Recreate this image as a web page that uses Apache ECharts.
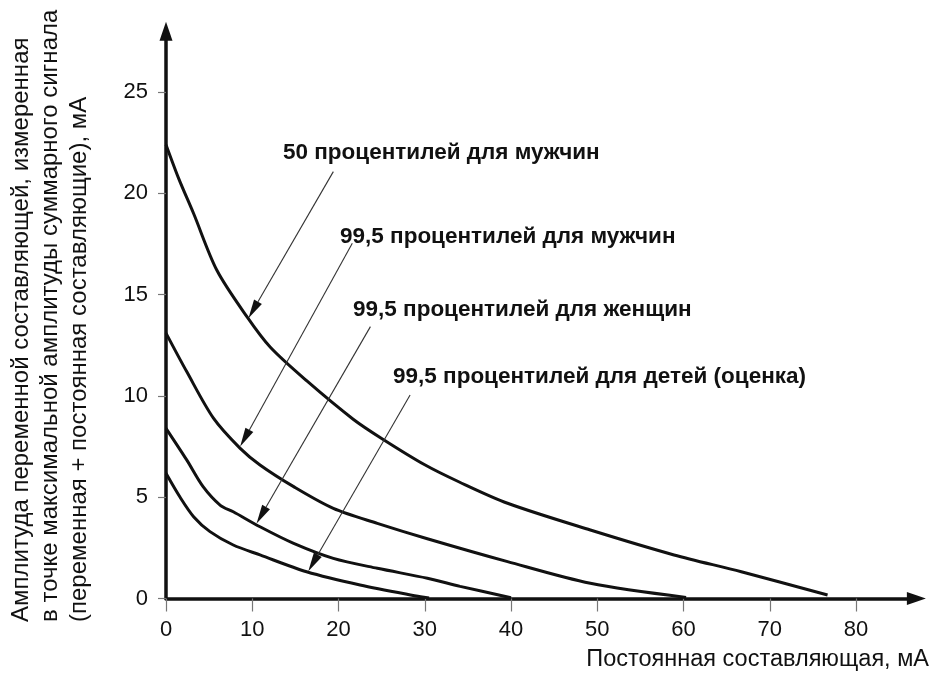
<!DOCTYPE html>
<html>
<head>
<meta charset="utf-8">
<script src="https://cdn.jsdelivr.net/npm/echarts@6/dist/echarts.min.js"></script>
<style>
  html, body { margin: 0; padding: 0; background: #fff; }
  #chart { width: 934px; height: 680px; }
</style>
</head>
<body>
<div id="chart"></div>
<script>
// ---- Data ----
const xTickValues = [0, 10, 20, 30, 40, 50, 60, 70, 80];
const yTickValues = [0, 5, 10, 15, 20, 25];

// 50 percentile, men
const curve50Men = [[0, 22.4], [1.5, 20.7], [3.2, 19.0], [5.9, 16.2], [9.4, 13.9], [12.1, 12.4],
  [16.3, 10.75], [21.7, 8.85], [25.0, 7.9], [30.0, 6.6], [34.0, 5.75], [39.6, 4.7],
  [49.2, 3.38], [58.9, 2.15], [66.7, 1.32], [76.7, 0.17]];
// 99.5 percentile, men
const curve995Men = [[0, 13.1], [2.4, 11.2], [5.5, 8.9], [8.6, 7.41], [10.9, 6.59], [14.8, 5.52],
  [19.4, 4.45], [24.5, 3.71], [30.3, 2.95], [39.6, 1.82], [49.2, 0.75], [60.3, 0.05]];
// 99.5 percentile, women
const curve995Women = [[0, 8.4], [2.4, 6.84], [4.3, 5.52], [6.3, 4.6], [7.8, 4.28], [10.9, 3.54],
  [14.8, 2.72], [19.4, 1.98], [24.5, 1.49], [30.3, 1.0], [34.1, 0.6], [40.0, 0.04]];
// 99.5 percentile, children (estimate)
const curve995Children = [[0, 6.18], [1.6, 5.02], [3.2, 4.04], [5.1, 3.3], [7.8, 2.64], [10.9, 2.15],
  [16.3, 1.32], [22.5, 0.67], [29.5, 0.09], [30.5, 0.02]];

// annotation arrows: [xStart, yStart, xTip, yTip] in data units
const arrows = [
  [19.4, 21.07, 9.56, 13.83],
  [21.6, 17.53, 8.6, 7.5],
  [23.7, 13.42, 10.5, 3.7],
  [28.3, 10.04, 16.5, 1.35]
];
const annotationTexts = [
  '50 процентилей для мужчин',
  '99,5 процентилей для мужчин',
  '99,5 процентилей для женщин',
  '99,5 процентилей для детей (оценка)'
];
const xAxisTitle = 'Постоянная составляющая, мА';
const yAxisTitleLines = [
  'Амплитуда переменной составляющей, измеренная',
  'в точке максимальной амплитуды суммарного сигнала',
  '(переменная + постоянная составляющие), мА'
];

// ---- Chart ----
const FONT = '"Liberation Sans", Arial, Helvetica, sans-serif';
const chart = echarts.init(document.getElementById('chart'), null, { renderer: 'canvas' });

const curveStyle = { color: '#111', width: 3 };
function curveSeries(name, data) {
  return {
    name, type: 'line', data, showSymbol: false, symbol: 'none',
    smooth: 0.3,
    lineStyle: curveStyle, silent: true, z: 3
  };
}

const labelPos = [[283, 153], [340, 237], [353, 310], [393, 377]];

const option = {
  animation: false,
  backgroundColor: '#fff',
  grid: { left: 166, right: 17.6, top: 31.2, bottom: 81.5, containLabel: false },
  xAxis: {
    type: 'value', min: 0, max: 87,
    axisLine: { show: true, onZero: false, lineStyle: { color: '#111', width: 3.5 },
      symbol: ['none', 'triangle'], symbolSize: [13, 19] },
    axisTick: { show: true, length: 13, lineStyle: { color: '#777', width: 1.2 }, customValues: xTickValues },
    axisLabel: { customValues: xTickValues, margin: 20, fontSize: 22, color: '#111', fontFamily: FONT },
    splitLine: { show: false }
  },
  yAxis: {
    type: 'value', min: 0, max: 28,
    axisLine: { show: true, onZero: false, lineStyle: { color: '#111', width: 3.5 },
      symbol: ['none', 'triangle'], symbolSize: [13, 19] },
    axisTick: { show: true, length: 8, lineStyle: { color: '#777', width: 1.2 }, customValues: yTickValues },
    axisLabel: { customValues: yTickValues, margin: 18, fontSize: 22, color: '#111', fontFamily: FONT },
    splitLine: { show: false }
  },
  graphic: [
    ...annotationTexts.map((t, i) => ({
      type: 'text', x: labelPos[i][0], y: labelPos[i][1], silent: true,
      style: { text: t, fontSize: 22.5, fontWeight: 'bold', fontFamily: FONT, fill: '#111',
        align: 'left', verticalAlign: 'middle' }
    })),
    {
      type: 'text', x: 929, y: 660, silent: true,
      style: { text: xAxisTitle, fontSize: 23.5, fontFamily: FONT, fill: '#111', align: 'right', verticalAlign: 'middle' }
    },
    {
      type: 'text', x: 7, y: 622, rotation: Math.PI / 2, silent: true,
      style: { text: yAxisTitleLines.join('\n'), fontSize: 24, lineHeight: 29, fontFamily: FONT, fill: '#111',
        align: 'left', verticalAlign: 'top' }
    }
  ],
  series: [
    curveSeries('50 процентилей для мужчин', curve50Men),
    curveSeries('99,5 процентилей для мужчин', curve995Men),
    curveSeries('99,5 процентилей для женщин', curve995Women),
    curveSeries('99,5 процентилей для детей (оценка)', curve995Children),
    {
      type: 'custom', data: arrows, silent: true, z: 4,
      encode: { x: [0, 2], y: [1, 3] },
      renderItem: function (params, api) {
        const p1 = api.coord([api.value(0), api.value(1)]);
        const p2 = api.coord([api.value(2), api.value(3)]);
        const dx = p2[0] - p1[0], dy = p2[1] - p1[1];
        const L = Math.hypot(dx, dy);
        const ux = dx / L, uy = dy / L;
        const hl = 19, hw = 4.5;
        const bx = p2[0] - ux * hl, by = p2[1] - uy * hl;
        const nx = -uy, ny = ux;
        return {
          type: 'group',
          children: [
            { type: 'line', shape: { x1: p1[0], y1: p1[1], x2: bx, y2: by },
              style: { stroke: '#333', lineWidth: 1.1 } },
            { type: 'polygon', shape: { points: [[p2[0], p2[1]], [bx + nx * hw, by + ny * hw], [bx - nx * hw, by - ny * hw]] },
              style: { fill: '#111' } }
          ]
        };
      }
    }
  ]
};
chart.setOption(option);
</script>
</body>
</html>
